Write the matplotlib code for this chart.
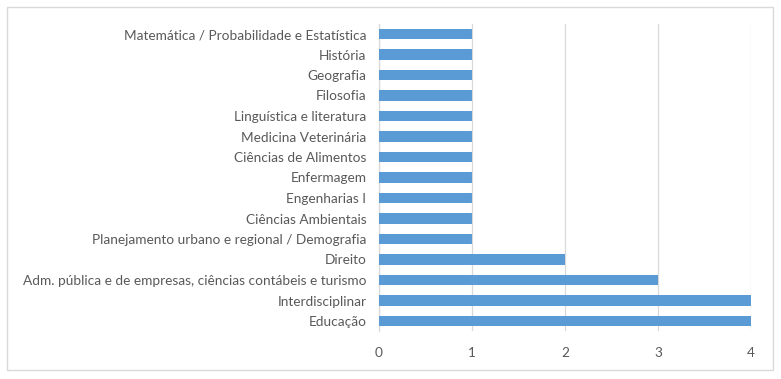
import matplotlib
matplotlib.use("Agg")
import matplotlib.pyplot as plt
from matplotlib.patches import Rectangle

# ── Data (bottom to top) ─────────────────────────────────────────────────────
areas = [
    "Educação",
    "Interdisciplinar",
    "Adm. pública e de empresas, ciências contábeis e turismo",
    "Direito",
    "Planejamento urbano e regional / Demografia",
    "Ciências Ambientais",
    "Engenharias I",
    "Enfermagem",
    "Ciências de Alimentos",
    "Medicina Veterinária",
    "Linguística e literatura",
    "Filosofia",
    "Geografia",
    "História",
    "Matemática / Probabilidade e Estatística",
]
counts = [4, 4, 3, 2, 1, 1, 1, 1, 1, 1, 1, 1, 1, 1, 1]
x_ticks = [0, 1, 2, 3, 4]

BAR_COLOR = "#5B9BD5"
TEXT_COLOR = "#595959"
GRID_COLOR = "#D9D9D9"

plt.rcParams["font.family"] = ["Lato", "DejaVu Sans"]

fig = plt.figure(figsize=(7.81, 3.79), dpi=100)
ax = fig.add_axes([379 / 781, 1 - 331.25 / 379, (751 - 379) / 781, (331.25 - 23.75) / 379])

ypos = list(range(len(areas)))
ax.barh(ypos, counts, height=0.52, color=BAR_COLOR, zorder=3)

ax.set_xlim(0, 4)
ax.set_ylim(-0.5, len(areas) - 0.5)
ax.set_xticks(x_ticks)
ax.set_xticklabels([str(t) for t in x_ticks])
ax.set_yticks(ypos)
ax.set_yticklabels(areas)

ax.xaxis.grid(True, color=GRID_COLOR, lw=0.9, zorder=0)
for side in ("top", "right", "bottom"):
    ax.spines[side].set_visible(False)
ax.spines["left"].set_color(GRID_COLOR)
ax.spines["left"].set_linewidth(0.9)

ax.tick_params(axis="both", length=0, colors=TEXT_COLOR, labelsize=9.8)
ax.tick_params(axis="y", pad=9)
ax.tick_params(axis="x", pad=11)

# outer chart border
fig.patches.append(Rectangle((7 / 781, 1 - 370 / 379), 766 / 781, 363 / 379,
                             transform=fig.transFigure, fill=False,
                             edgecolor="#D9D9D9", lw=1.0))

fig.savefig("out.png", dpi=100)
